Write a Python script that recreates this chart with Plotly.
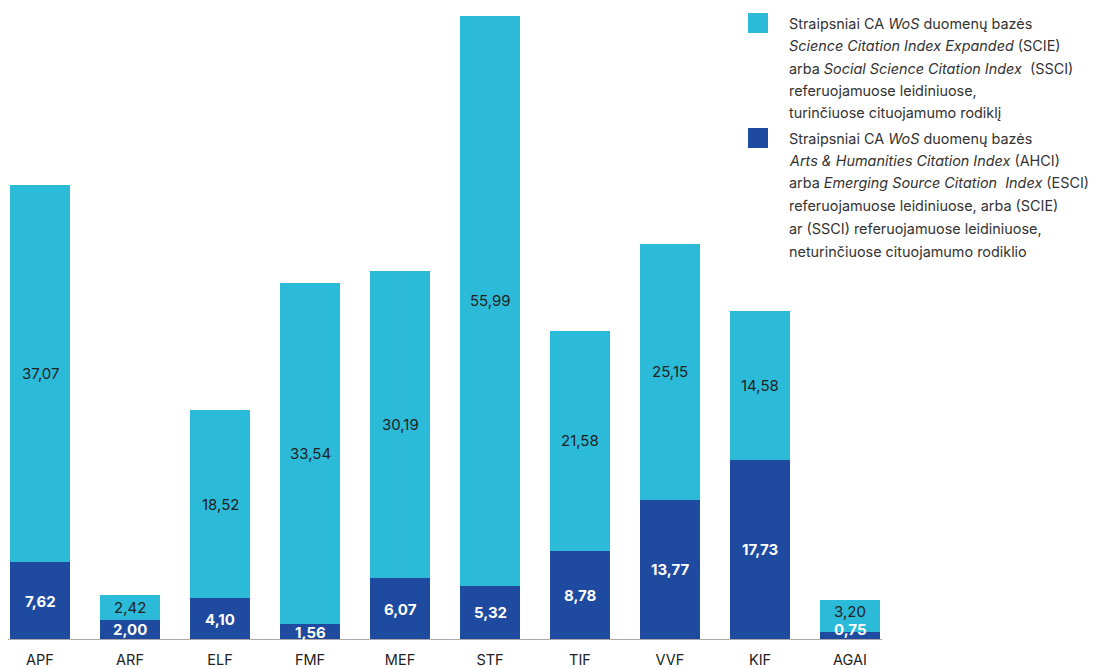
import plotly.graph_objects as go

categories = ["APF", "ARF", "ELF", "FMF", "MEF", "STF", "TIF", "VVF", "KIF", "AGAI"]
dark_values = [7.62, 2.00, 4.10, 1.56, 6.07, 5.32, 8.78, 13.77, 17.73, 0.75]
light_values = [37.07, 2.42, 18.52, 33.54, 30.19, 55.99, 21.58, 25.15, 14.58, 3.20]

legend_light = [
    "Straipsniai CA <i>WoS</i> duomenų bazės",
    "<i>Science Citation Index Expanded</i> (SCIE)",
    "arba <i>Social Science Citation Index</i>  (SSCI)",
    "referuojamuose leidiniuose,",
    "turinčiuose cituojamumo rodiklį",
]
legend_dark = [
    "Straipsniai CA <i>WoS</i> duomenų bazės",
    "<i>Arts &amp; Humanities Citation Index</i> (AHCI)",
    "arba <i>Emerging Source Citation  Index</i> (ESCI)",
    "referuojamuose leidiniuose, arba (SCIE)",
    "ar (SSCI) referuojamuose leidiniuose,",
    "neturinčiuose cituojamumo rodiklio",
]

LIGHT = "#2cbad9"
DARK = "#1e4a9f"
FONT = "Inter"

# page body has an 8px margin; figure sized to fill the rest
OFF = 8
W, H = 1099 - OFF, 668 - OFF
B = 28
H_PLOT = H - B
PX_PER_UNIT = 10.18

def fmt(v):
    return f"{v:.2f}".replace(".", ",")

fig = go.Figure()
fig.add_trace(go.Bar(x=categories, y=dark_values, marker=dict(color=DARK, line=dict(width=0)),
                     name="dark", hoverinfo="skip"))
fig.add_trace(go.Bar(x=categories, y=light_values, marker=dict(color=LIGHT, line=dict(width=0)),
                     name="light", hoverinfo="skip"))

annotations = []
for c, d, l in zip(categories, dark_values, light_values):
    if d < 1:
        annotations.append(dict(x=c, y=0, yanchor="bottom", text=fmt(d), showarrow=False, yshift=-1,
                                font=dict(family=FONT, size=15, color="white", weight="bold")))
    else:
        annotations.append(dict(x=c, y=d / 2, text=fmt(d), showarrow=False,
                                font=dict(family=FONT, size=15, color="white", weight="bold")))
    annotations.append(dict(x=c, y=d + l / 2, text=fmt(l), showarrow=False,
                            yshift=5 if d < 1 else 0,
                            font=dict(family=FONT, size=15, color="#222222")))

def px(xp):
    return (xp - OFF) / W
def py(yp):
    return (H_PLOT - (yp - OFF)) / H_PLOT

shapes = []
line_h = 22.6
for block, top, color in ((legend_light, 23, LIGHT), (legend_dark, 138, DARK)):
    shapes.append(dict(type="rect", xref="paper", yref="paper",
                       x0=px(748), x1=px(768), y0=py(top + 10), y1=py(top - 10),
                       fillcolor=color, line=dict(width=0)))
    for i, t in enumerate(block):
        annotations.append(dict(xref="paper", yref="paper", x=px(787), y=py(top + i * line_h),
                                xanchor="left", yanchor="middle", text=t, showarrow=False,
                                font=dict(family=FONT, size=14.4, color="#333333")))

shapes.append(dict(type="line", xref="x", yref="y", x0=-0.36, x1=9.36, y0=0, y1=0,
                   line=dict(color="#aaaaaa", width=2)))

a = -(40 - OFF) / 90
fig.update_layout(
    barmode="stack",
    bargap=1/3,
    width=W, height=H,
    margin=dict(l=0, r=0, t=0, b=B),
    plot_bgcolor="white", paper_bgcolor="white",
    showlegend=False,
    annotations=annotations,
    shapes=shapes,
    xaxis=dict(type="category", range=[a, a + W / 90], showgrid=False, zeroline=False,
               showline=False, ticks="", ticklabelstandoff=9,
               tickfont=dict(family=FONT, size=14.5, color="#222222")),
    yaxis=dict(range=[0, H_PLOT / PX_PER_UNIT], visible=False),
)

fig.write_html("out.html")
